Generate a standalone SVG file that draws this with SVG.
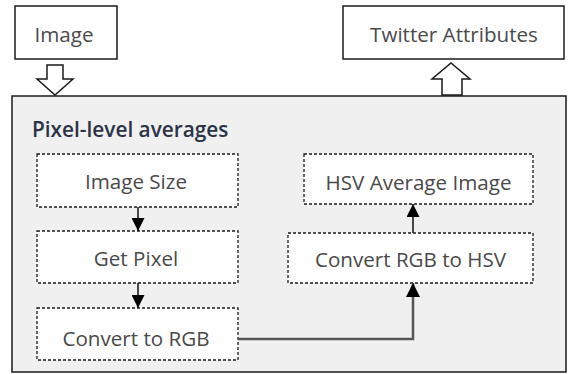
<svg xmlns="http://www.w3.org/2000/svg" width="568" height="374" viewBox="0 0 568 374">
  <defs>
    <style>
      .io rect { fill: #ffffff; stroke: #1a1a1a; stroke-width: 1.5; }
      .step rect { fill: #ffffff; stroke: #1a1a1a; stroke-width: 1.3; stroke-dasharray: 3 2; }
      .lbl { font-family: "Open Sans", "DejaVu Sans", sans-serif; font-size: 20.6px; fill: #4a4a4a; text-anchor: middle; }
      .title { font-family: "Open Sans", "DejaVu Sans", sans-serif; font-size: 20.8px; font-weight: 600; fill: #2c3347; }
      .hollow { fill: #ffffff; stroke: #1a1a1a; stroke-width: 1.5; stroke-linejoin: miter; }
      .flow { fill: none; stroke: #111111; stroke-width: 1.5; }
      .link { fill: none; stroke: #555555; stroke-width: 2.5; }
    </style>
    <marker id="head" viewBox="0 0 10 10" refX="10" refY="5" markerWidth="13" markerHeight="13" markerUnits="userSpaceOnUse" orient="auto">
      <path d="M0,0 L10,5 L0,10 Z" fill="#000000"/>
    </marker>
    <marker id="headWide" viewBox="0 0 10 10" refX="10" refY="5" markerWidth="14" markerHeight="14" markerUnits="userSpaceOnUse" orient="auto">
      <path d="M0,0 L10,5 L0,10 Z" fill="#000000"/>
    </marker>
  </defs>

  <rect width="568" height="374" fill="#ffffff"/>

  <!-- container for the pixel-level steps -->
  <g id="pixel-level-averages">
    <rect x="12" y="96" width="554" height="276" fill="#f0f0f0" stroke="#1a1a1a" stroke-width="1.5"/>
    <text class="title" x="32" y="137">Pixel-level averages</text>
  </g>

  <g id="image" class="io">
    <rect x="15" y="6" width="102" height="53"/>
    <text class="lbl" x="64" y="42">Image</text>
  </g>

  <g id="twitter-attributes" class="io">
    <rect x="343" y="6" width="221" height="53"/>
    <text class="lbl" x="454" y="42">Twitter Attributes</text>
  </g>

  <g id="image-size" class="step">
    <rect x="37" y="154" width="201" height="53"/>
    <text class="lbl" x="136" y="189">Image Size</text>
  </g>

  <g id="get-pixel" class="step">
    <rect x="37" y="231" width="201" height="52"/>
    <text class="lbl" x="136" y="266">Get Pixel</text>
  </g>

  <g id="convert-to-rgb" class="step">
    <rect x="37" y="308" width="201" height="52"/>
    <text class="lbl" x="136" y="346">Convert to RGB</text>
  </g>

  <g id="hsv-average-image" class="step">
    <rect x="304" y="154" width="229" height="50"/>
    <text class="lbl" x="418.5" y="190">HSV Average Image</text>
  </g>

  <g id="convert-rgb-to-hsv" class="step">
    <rect x="288" y="233" width="245" height="50"/>
    <text class="lbl" x="410.5" y="267">Convert RGB to HSV</text>
  </g>

  <!-- connectors -->
  <g id="connectors">
    <!-- block arrows into and out of the container -->
    <path class="hollow" d="M47,65 H63 V79 H73 L55,95 L37,79 H47 Z"/>
    <path class="hollow" d="M442,95 V79 H432 L451,63 L470,79 H462 V95 Z"/>
    <line class="flow" x1="138" y1="207" x2="138" y2="231" marker-end="url(#head)"/>
    <line class="flow" x1="138" y1="283" x2="138" y2="308" marker-end="url(#head)"/>
    <line class="flow" x1="413" y1="233" x2="413" y2="204" marker-end="url(#head)"/>
    <polyline class="link" points="238,339 413,339 413,283" marker-end="url(#headWide)"/>
  </g>
</svg>
